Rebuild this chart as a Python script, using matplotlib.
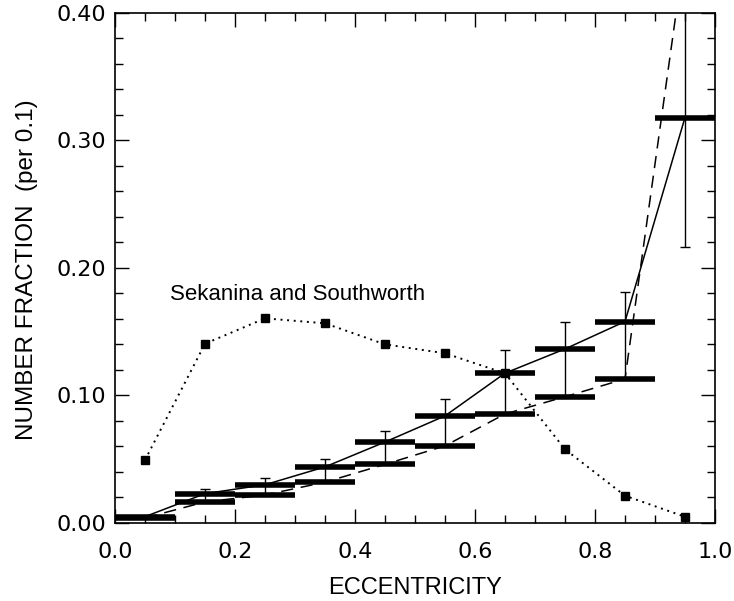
import numpy as np
import matplotlib as mpl
mpl.use('Agg')
import matplotlib.pyplot as plt
from matplotlib.ticker import MultipleLocator, FormatStrFormatter

plt.rcParams['font.family'] = ['Liberation Sans', 'DejaVu Sans']

# bins in eccentricity (per 0.1)
bin_lo = [0.0, 0.1, 0.2, 0.3, 0.4, 0.5, 0.6, 0.7, 0.8, 0.9]
bin_hi = [0.1, 0.2, 0.3, 0.4, 0.5, 0.6, 0.7, 0.8, 0.9, 1.0]
bin_mid = [0.05, 0.15, 0.25, 0.35, 0.45, 0.55, 0.65, 0.75, 0.85, 0.95]

# upper histogram (solid line) and its error range
upper = [0.005, 0.023, 0.030, 0.044, 0.0635, 0.084, 0.1175, 0.1365, 0.158, 0.318]
err_top = [0.005, 0.0265, 0.035, 0.0505, 0.0725, 0.097, 0.136, 0.158, 0.181, 0.42]
err_bot = [0.005, 0.0165, 0.022, 0.032, 0.046, 0.0605, 0.0855, 0.099, 0.113, 0.2167]

# lower histogram (dashed line)
lower = [0.004, 0.0165, 0.022, 0.032, 0.046, 0.0605, 0.0855, 0.099, 0.113, 0.45]

# Sekanina and Southworth
ss_x = bin_mid
ss_y = [0.0494, 0.1406, 0.1605, 0.1566, 0.1401, 0.1331, 0.1174, 0.0578, 0.0214, 0.0049]

fig = plt.figure(figsize=(7.34, 6.01), dpi=100)
ax = fig.add_axes([0.1567, 0.1298, 0.8174, 0.8486])

# dotted comparison curve
ax.plot(ss_x, ss_y, color='black', lw=1.4, linestyle=(0, (1, 2.4)),
        marker='s', ms=6, markerfacecolor='black', markeredgecolor='black', zorder=4)

# error bars on upper histogram
upper_a = np.array(upper)
yerr = [upper_a - np.array(err_bot), np.array(err_top) - upper_a]
ax.errorbar(bin_mid[1:], upper[1:], yerr=[yerr[0][1:], yerr[1][1:]], fmt='none',
            ecolor='black', elinewidth=1.0, capsize=3.5, capthick=1.0, zorder=3)

# lines through bin centers
ax.plot(bin_mid, upper, color='black', lw=1.1, zorder=3)
ax.plot(bin_mid, lower, color='black', lw=1.1, linestyle=(0, (8, 5)), zorder=3)

# thick histogram bars
ax.hlines(upper, bin_lo, bin_hi, color='black', lw=4.0, zorder=5)
ax.hlines(lower, bin_lo, bin_hi, color='black', lw=4.0, zorder=5)

ax.text(0.092, 0.179, 'Sekanina and Southworth', fontsize=16, va='center', ha='left')

ax.set_xlim(0.0, 1.0)
ax.set_ylim(0.0, 0.40)
ax.xaxis.set_major_locator(MultipleLocator(0.2))
ax.xaxis.set_minor_locator(MultipleLocator(0.05))
ax.yaxis.set_major_locator(MultipleLocator(0.1))
ax.yaxis.set_minor_locator(MultipleLocator(0.02))
ax.xaxis.set_major_formatter(FormatStrFormatter('%.1f'))
ax.yaxis.set_major_formatter(FormatStrFormatter('%.2f'))
ax.tick_params(which='both', direction='in', top=True, right=True, width=1.0)
ax.tick_params(which='major', length=10)
ax.tick_params(which='minor', length=6)
ax.tick_params(axis='x', which='major', pad=14)
ax.tick_params(axis='y', which='major', pad=6.5)
for lab in ax.get_xticklabels() + ax.get_yticklabels():
    lab.set_family(['DejaVu Sans'])
    lab.set_fontsize(16)
for s in ax.spines.values():
    s.set_linewidth(1.2)

ax.set_xlabel('ECCENTRICITY', fontsize=17, va='center')
ax.set_ylabel('NUMBER FRACTION  (per 0.1)', fontsize=17.5, va='center')
ax.xaxis.set_label_coords(0.5, -0.127)
ax.yaxis.set_label_coords(-0.147, 0.497)

fig.savefig('out.png', dpi=100)
plt.close()
